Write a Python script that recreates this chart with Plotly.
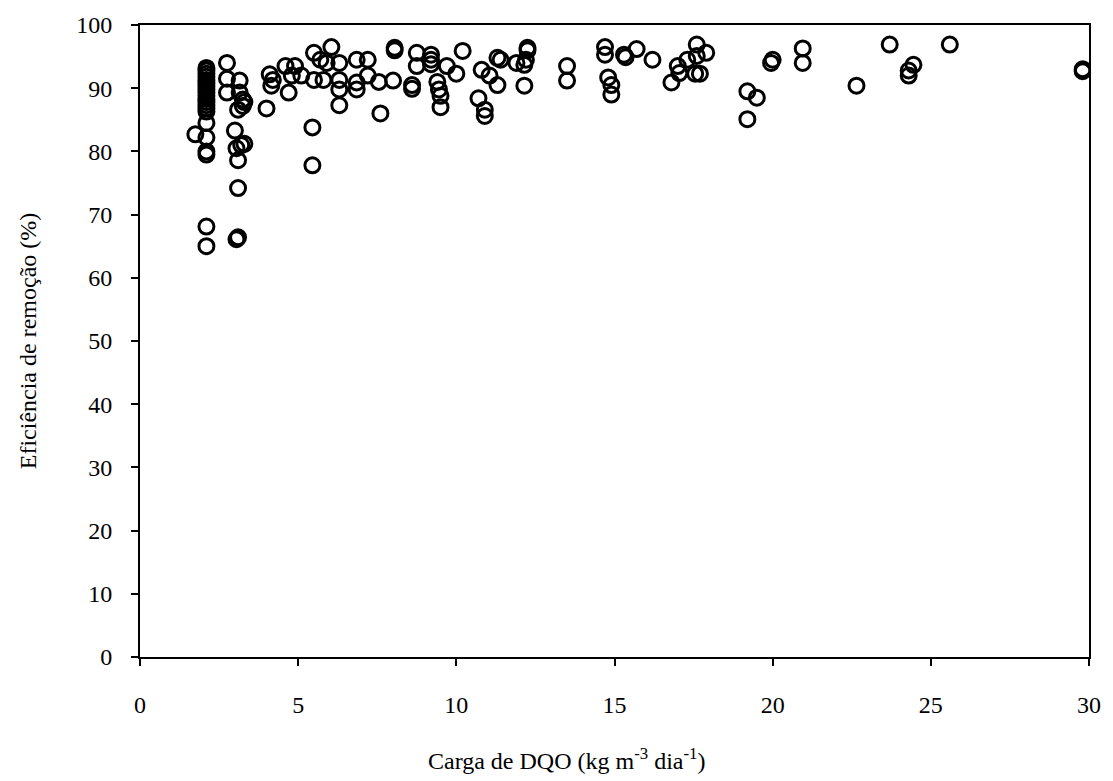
import plotly.graph_objects as go

carga = [
    2.1, 2.1, 2.1, 2.1, 2.1, 2.1, 2.1, 2.1, 2.1, 2.1, 2.1, 2.1, 2.1, 2.1, 2.1,
    2.1, 2.1, 2.1, 2.1, 1.75, 2.1, 2.1,
    2.75, 2.75, 2.75, 3.15, 3.15, 3.25, 3.1, 3.25, 3.0, 3.2, 3.05, 3.1, 3.1,
    3.05, 3.1, 3.3, 3.3,
    4.0, 4.1, 4.2, 4.15, 4.6, 4.7, 4.8, 4.9, 5.1, 5.5, 5.7, 6.05, 5.9, 5.5,
    5.8, 6.3, 6.3, 6.3, 6.85, 7.2, 6.85, 6.85, 7.2, 6.3, 5.45, 5.45, 7.55,
    8.05, 8.05, 8.75, 8.75, 9.2, 9.2, 9.2, 9.7, 10.2, 10.0, 7.6, 8.0, 8.6,
    8.6, 9.4, 9.45, 9.5, 9.5, 10.8, 11.05, 11.3, 11.3, 10.7, 10.9, 10.9,
    12.25, 12.25, 12.2, 12.15, 11.9, 12.15, 11.4,
    13.5, 13.5, 14.7, 14.7, 14.8, 14.9, 14.9, 15.3, 15.35, 15.7, 16.2,
    16.8, 17.0, 17.05, 17.3, 17.6, 17.6, 17.7, 17.9, 17.55,
    19.2, 19.5, 19.2, 19.95, 20.0, 20.95, 20.95,
    23.7, 25.6, 22.65, 24.45, 24.3, 24.3, 29.8, 29.8,
]
eficiencia = [
    93.2, 92.8, 92.3, 91.8, 91.3, 90.8, 90.3, 89.8, 89.3, 88.8, 88.3, 87.8, 87.3, 86.8, 86.3,
    84.5, 82.2, 80.0, 79.5, 82.7, 68.1, 65.0,
    94.0, 91.5, 89.3, 91.2, 89.3, 88.2, 86.6, 87.2, 83.3, 81.0, 80.5, 78.6, 74.2,
    66.1, 66.4, 87.8, 81.2,
    86.8, 92.2, 91.3, 90.4, 93.5, 89.3, 92.0, 93.5, 92.0, 95.6, 94.5, 96.5, 94.0, 91.3,
    91.3, 94.0, 91.3, 89.8, 94.5, 94.5, 90.9, 89.8, 92.0, 87.3, 83.8, 77.8, 91.0,
    96.4, 96.0, 95.6, 93.5, 95.3, 94.5, 93.8, 93.5, 95.9, 92.3, 86.0, 91.2, 90.5,
    89.9, 91.0, 89.8, 88.8, 87.0, 92.9, 92.0, 94.8, 90.5, 88.4, 86.6, 85.6,
    96.4, 96.0, 94.5, 93.7, 94.0, 90.4, 94.5,
    93.5, 91.2, 96.5, 95.3, 91.7, 90.5, 89.0, 95.3, 94.9, 96.2, 94.5,
    90.9, 93.5, 92.4, 94.5, 96.9, 95.1, 92.3, 95.6, 92.3,
    89.5, 88.5, 85.1, 94.0, 94.5, 96.3, 94.0,
    96.9, 96.9, 90.4, 93.7, 92.8, 92.0, 93.0, 92.7,
]

x_ticks = [0, 5, 10, 15, 20, 25, 30]
y_ticks = [0, 10, 20, 30, 40, 50, 60, 70, 80, 90, 100]
x_title = "Carga de DQO (kg m<sup>-3</sup> dia<sup>-1</sup>)"
y_title = "Eficiência de remoção (%)"

font_family = "Liberation Serif, Times New Roman, serif"

fig = go.Figure()
fig.add_trace(go.Scatter(
    x=carga, y=eficiencia, mode="markers",
    marker=dict(symbol="circle-open", size=15, color="black",
                line=dict(color="black", width=3)),
    showlegend=False,
))

fig.update_layout(
    width=1113, height=781,
    margin=dict(l=140, r=23, t=22, b=124),
    paper_bgcolor="white", plot_bgcolor="white",
    font=dict(family=font_family, size=24, color="black"),
)
fig.add_annotation(
    text=x_title, xref="paper", yref="paper", x=0.449, y=-0.162,
    xanchor="center", yanchor="middle", showarrow=False,
    font=dict(family=font_family, size=24, color="black"),
)
fig.update_xaxes(
    range=[0, 30], tickvals=x_ticks, ticks="outside", ticklen=7, tickwidth=2,
    tickcolor="black", showline=True, linewidth=2, linecolor="black", mirror=True,
    showgrid=False, zeroline=False, ticklabelstandoff=18,
    tickfont=dict(family=font_family, size=24),
)
fig.update_yaxes(
    range=[0, 100], tickvals=y_ticks, ticks="outside", ticklen=7, tickwidth=2,
    tickcolor="black", showline=True, linewidth=2, linecolor="black", mirror=True,
    showgrid=False, zeroline=False, ticklabelstandoff=14,
    title=dict(text=y_title, standoff=33,
               font=dict(family=font_family, size=24)),
    tickfont=dict(family=font_family, size=24),
)

fig.write_html("out.html")
